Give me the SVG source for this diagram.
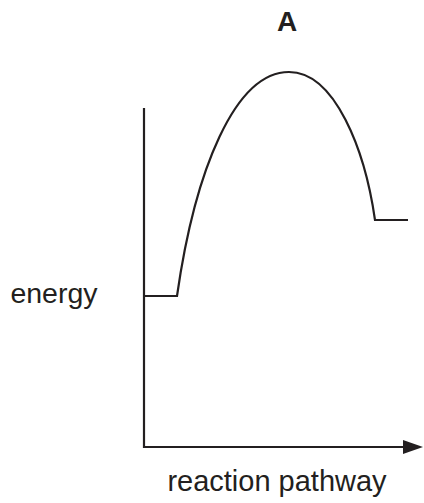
<svg xmlns="http://www.w3.org/2000/svg" width="424" height="503" viewBox="0 0 424 503">
<style>
.ln{fill:none;stroke:#231f20;stroke-width:2.2;stroke-linejoin:miter}
.t{font-family:"Liberation Sans",Arial,sans-serif;fill:#231f20;text-anchor:middle}
</style>
<rect width="424" height="503" fill="#fff"/>
<g id="axes">
<path class="ln" d="M144,108 V447 H405"/>
<polygon points="403,440 423,447 403,454" fill="#231f20"/>
</g>
<g id="curve">
<path class="ln" d="M144,296 H177 C195,170 235,72 289,72 C335,72 365,150 375,220 H408"/>
</g>
<g id="labels">
<text class="t" x="287" y="31" font-size="28" font-weight="bold">A</text>
<text class="t" x="54" y="303" font-size="28.5">energy</text>
<text class="t" x="277" y="491" font-size="29">reaction pathway</text>
</g>
</svg>
